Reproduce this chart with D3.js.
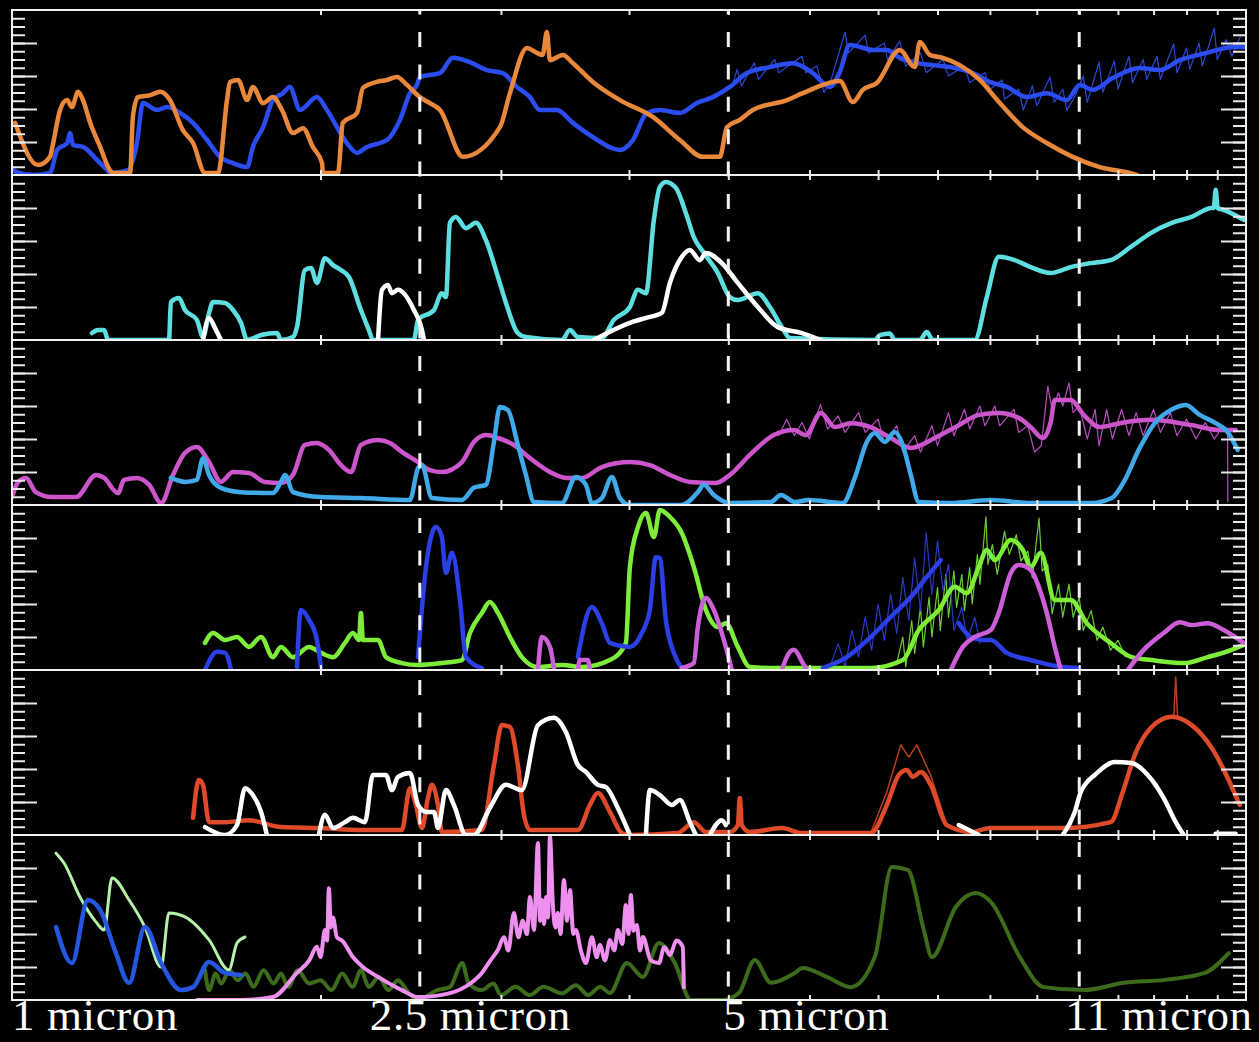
<!DOCTYPE html>
<html>
<head>
<meta charset="utf-8">
<script src="https://cdn.jsdelivr.net/npm/d3@7"></script>
<style>
  body { margin: 0; background: #000; }
  #chart-area { width: 1259px; height: 1042px; overflow: hidden; }
</style>
</head>
<body>
<div id="chart-area"></div>
<script>
/*
*    spectra panels - main script
*/

// wavelength labels along the bottom (micron)
var markLabels = ["1 micron", "2.5 micron", "5 micron", "11 micron"];
var markWaves = [1, 2.5, 5, 11];
var dashedWaves = [2.5, 5, 11];

// [wavelength in micron, relative flux 0..5], null = gap in the trace
// panel 1
var p1Blue = [[1.002,0.15],[1.011,0.09],[1.05,0.0],[1.089,0.06],[1.107,0.76],[1.132,0.97],[1.139,1.27],[1.147,0.91],[1.173,0.85],[1.211,0.45],[1.238,0.15],[1.246,0.06],[1.298,0.15],[1.324,0.97],[1.342,2.18],[1.385,1.97],[1.417,2.06],[1.459,1.88],[1.502,1.58],[1.55,1.06],[1.596,0.55],[1.643,0.36],[1.696,0.24],[1.718,0.85],[1.758,1.45],[1.797,2.27],[1.838,2.48],[1.867,2.67],[1.91,1.97],[1.984,2.36],[2.029,1.97],[2.122,0.97],[2.171,0.67],[2.22,0.85],[2.322,1.06],[2.391,1.67],[2.445,2.48],[2.484,2.73],[2.5,2.97],[2.616,3.09],[2.693,3.55],[2.798,3.42],[2.907,3.18],[3.013,3.09],[3.109,2.67],[3.202,2.36],[3.274,1.97],[3.402,1.97],[3.526,1.58],[3.688,1.15],[3.919,0.76],[4.035,1.06],[4.164,1.88],[4.287,1.97],[4.484,1.88],[4.659,2.18],[4.829,2.36],[5.017,2.67],[5.213,3.09],[5.489,3.27],[5.78,3.39],[6.045,3.09],[6.281,2.67],[6.423,3.12],[6.569,3.94],[6.718,3.88],[6.917,3.79],[7.139,3.79],[7.35,3.55],[7.637,3.39],[7.916,3.33],[8.224,3.27],[8.66,3.09],[8.997,2.82],[9.348,2.67],[9.777,2.36],[10.226,2.48],[10.696,2.27],[11.013,2.73],[11.339,2.58],[11.86,2.94],[12.602,3.24],[13.18,3.18],[13.786,3.48],[14.649,3.7],[15.528,3.88],[15.95,3.88]];
var p1BlueRaw = [[5.05,2.75],[5.1,3.2],[5.15,2.7],[5.3,3.4],[5.35,2.9],[5.55,3.5],[5.6,3.1],[5.9,3.6],[5.95,3.1],[6.1,3.3],[6.2,2.5],[6.3,2.9],[6.5,4.33],[6.55,3.7],[6.8,4.24],[6.85,3.7],[7.1,4.0],[7.15,3.5],[7.35,4.05],[7.45,3.3],[7.7,3.7],[7.8,3.1],[8.1,3.5],[8.2,3.0],[8.5,3.3],[8.6,2.8],[8.9,3.1],[9.0,2.6],[9.25,2.88],[9.3,2.3],[9.6,2.6],[9.7,1.97],[9.9,2.7],[10.0,2.1],[10.3,2.97],[10.4,2.2],[10.6,2.6],[10.7,1.95],[10.9,2.4],[11.1,3.0],[11.2,2.2],[11.5,3.42],[11.6,2.5],[11.9,3.45],[12.0,2.6],[12.3,3.6],[12.4,2.8],[12.7,3.5],[12.8,2.9],[13.1,3.6],[13.2,2.9],[13.6,3.97],[13.7,3.1],[14.0,3.85],[14.1,3.2],[14.4,4.0],[14.5,3.3],[14.9,4.45],[15.0,3.5],[15.3,4.1],[15.5,3.6],[15.8,4.2]];
var p1Orange = [[1.007,1.58],[1.06,0.3],[1.089,0.55],[1.097,0.97],[1.114,1.97],[1.132,2.27],[1.144,2.06],[1.16,2.52],[1.173,2.27],[1.192,1.58],[1.219,0.85],[1.246,0.15],[1.255,0.06],[1.304,0.06],[1.312,1.76],[1.327,2.36],[1.364,2.42],[1.395,2.52],[1.426,2.27],[1.468,1.36],[1.502,0.97],[1.543,0.06],[1.589,0.06],[1.621,2.27],[1.632,2.82],[1.662,2.88],[1.696,2.27],[1.718,2.67],[1.758,2.18],[1.797,2.36],[1.834,1.97],[1.88,1.27],[1.923,1.42],[1.966,0.85],[2.007,0.36],[2.011,0.06],[2.08,0.06],[2.103,1.58],[2.171,1.88],[2.2,2.64],[2.27,2.82],[2.322,2.88],[2.375,2.97],[2.429,2.73],[2.5,2.36],[2.557,2.18],[2.616,1.97],[2.754,0.55],[2.993,1.45],[3.061,2.48],[3.18,3.85],[3.252,3.7],[3.294,3.64],[3.326,4.33],[3.349,3.48],[3.448,3.64],[3.526,3.39],[3.688,2.82],[3.919,2.27],[4.22,1.76],[4.484,1.06],[4.722,0.55],[4.906,0.55],[4.984,1.45],[5.131,1.67],[5.283,1.97],[5.703,2.27],[5.911,2.48],[6.423,2.85],[6.614,2.21],[6.764,2.58],[6.98,2.79],[7.35,3.79],[7.602,3.27],[7.688,4.03],[7.863,3.64],[8.096,3.55],[8.411,3.33],[8.797,2.88],[9.202,2.18],[9.689,1.45],[10.226,0.97],[10.841,0.55],[11.519,0.24],[12.322,0.06],[12.52,0.0]];

// panel 2
var p2Cyan = [[1.197,0.21],[1.213,0.3],[1.23,0.3],[1.241,0.0],[1.423,0.0],[1.429,1.15],[1.455,1.27],[1.475,0.91],[1.515,0.61],[1.536,0.09],[1.557,0.82],[1.571,1.15],[1.614,1.12],[1.643,0.91],[1.673,0.52],[1.696,0.0],[1.75,0.15],[1.814,0.21],[1.83,0.0],[1.88,0.09],[1.897,0.39],[1.931,2.12],[1.958,2.18],[1.984,1.73],[2.02,2.48],[2.057,2.27],[2.094,2.12],[2.132,1.91],[2.19,0.91],[2.23,0.3],[2.25,0.0],[2.467,0.0],[2.49,0.61],[2.581,0.91],[2.627,1.42],[2.651,1.3],[2.675,3.55],[2.711,3.73],[2.773,3.39],[2.836,3.55],[2.9,3.03],[2.98,1.91],[3.034,1.12],[3.116,0.21],[3.173,0.09],[3.44,0.0],[3.503,0.3],[3.566,0.09],[3.763,0.06],[3.866,0.61],[4.008,1.0],[4.081,1.52],[4.155,1.42],[4.23,3.64],[4.287,4.64],[4.345,4.79],[4.444,4.61],[4.545,3.85],[4.627,3.12],[4.733,2.64],[4.884,2.03],[5.017,1.3],[5.108,1.21],[5.343,1.42],[5.489,1.0],[5.639,0.39],[5.741,0.06],[6.949,0.0],[7.027,0.15],[7.187,0.2],[7.268,0.0],[7.688,0.0],[7.81,0.24],[7.916,0.0],[8.699,0.0],[8.937,1.3],[9.181,2.52],[9.517,2.42],[9.865,2.21],[10.318,2.03],[10.792,2.21],[11.288,2.33],[11.807,2.42],[12.35,2.82],[12.916,3.24],[13.54,3.55],[14.162,3.73],[14.813,4.0],[14.88,4.0],[14.947,4.55],[15.015,4.0],[15.218,3.94],[15.917,3.64]];
var p2White = [[1.536,0.0],[1.557,0.67],[1.578,0.36],[1.599,0.0],null,[2.276,0.0],[2.296,1.52],[2.327,1.67],[2.348,1.42],[2.38,1.52],[2.467,0.91],[2.512,0.3],[2.523,0.0],null,[3.697,0.0],[4.008,0.52],[4.155,0.67],[4.306,0.82],[4.385,1.73],[4.504,2.52],[4.586,2.73],[4.69,2.42],[4.754,2.64],[4.928,2.33],[5.108,1.73],[5.343,1.0],[5.588,0.39],[5.898,0.21],[6.155,0.0]];

// panel 3
var p3Magenta = [[1.0,0.24],[1.014,0.7],[1.032,0.82],[1.055,0.39],[1.094,0.24],[1.155,0.24],[1.208,0.91],[1.23,0.82],[1.269,0.36],[1.286,0.76],[1.324,0.82],[1.361,0.61],[1.398,0.06],[1.436,0.91],[1.475,1.58],[1.515,1.76],[1.557,1.3],[1.599,0.7],[1.643,1.0],[1.703,0.97],[1.765,0.7],[1.83,0.67],[1.88,0.91],[1.931,1.82],[1.984,1.88],[2.038,1.67],[2.094,1.21],[2.142,1.0],[2.19,1.82],[2.276,1.97],[2.338,1.88],[2.401,1.61],[2.49,1.3],[2.557,1.06],[2.627,1.0],[2.748,1.3],[2.823,1.91],[2.9,2.12],[2.98,2.03],[3.088,1.82],[3.202,1.42],[3.349,1.0],[3.471,0.82],[3.598,0.82],[3.763,1.15],[4.008,1.3],[4.192,1.21],[4.385,0.91],[4.586,0.7],[4.862,0.67],[5.017,0.91],[5.248,1.52],[5.538,2.12],[5.793,2.27],[5.951,2.12],[6.155,2.79],[6.352,2.36],[6.584,2.48],[6.886,2.36],[7.203,2.03],[7.534,1.73],[7.952,2.03],[8.392,2.42],[8.778,2.73],[9.181,2.79],[9.603,2.64],[9.865,2.36],[10.134,2.03],[10.318,2.52],[10.412,3.18],[10.792,3.18],[11.112,2.73],[11.519,2.36],[12.048,2.48],[12.945,2.58],[14.162,2.42],[15.082,2.27],[15.634,2.27]];
var p3MagentaRaw = [[5.6,2.1],[5.7,2.6],[5.8,2.1],[5.9,2.5],[6.0,2.0],[6.15,3.05],[6.25,2.3],[6.4,2.7],[6.5,2.2],[6.7,2.8],[6.8,2.2],[7.0,2.6],[7.1,1.9],[7.3,2.4],[7.4,1.6],[7.6,2.1],[7.7,1.6],[7.9,2.4],[8.0,1.8],[8.2,2.8],[8.3,2.1],[8.5,2.9],[8.6,2.3],[8.8,3.0],[8.9,2.4],[9.1,3.0],[9.2,2.4],[9.5,2.9],[9.6,2.2],[9.8,2.4],[9.95,1.6],[10.1,1.8],[10.25,3.6],[10.35,2.9],[10.5,3.4],[10.6,3.0],[10.75,3.7],[10.85,2.8],[11.0,3.0],[11.2,2.0],[11.4,2.9],[11.5,1.8],[11.7,2.9],[11.85,2.0],[12.1,2.9],[12.3,2.1],[12.5,2.8],[12.7,2.1],[13.0,2.9],[13.2,2.2],[13.5,2.8],[13.7,2.1],[14.0,2.6],[14.3,2.0],[14.6,2.5],[14.9,2.0],[15.2,2.4],null,[15.35,2.3],[15.36,0.1]];
var p3Sky = [[1.429,0.82],[1.475,0.7],[1.515,0.76],[1.536,1.42],[1.557,0.91],[1.599,0.52],[1.673,0.39],[1.797,0.36],[1.83,0.7],[1.847,0.91],[1.88,0.39],[2.002,0.24],[2.19,0.21],[2.445,0.15],[2.49,1.12],[2.512,1.21],[2.569,0.21],[2.748,0.15],[2.823,0.52],[2.9,0.61],[2.953,1.91],[2.993,2.97],[3.047,2.88],[3.116,1.82],[3.173,0.91],[3.231,0.09],[3.44,0.06],[3.55,0.85],[3.631,0.61],[3.68,0.06],[3.763,0.21],[3.849,0.85],[3.919,0.21],[4.008,0.0],[4.504,0.0],[4.669,0.39],[4.733,0.61],[4.84,0.3],[5.017,0.06],[5.501,0.09],[5.626,0.3],[5.806,0.09],[5.991,0.15],[6.467,0.06],[6.643,0.82],[6.825,1.91],[6.949,2.18],[7.107,1.91],[7.268,2.21],[7.4,1.82],[7.534,0.91],[7.671,0.09],[8.242,0.06],[9.017,0.15],[9.865,0.06],[11.313,0.06],[11.833,0.21],[12.157,0.7],[12.602,1.73],[13.063,2.52],[13.42,2.82],[13.974,3.03],[14.42,2.73],[14.947,2.48],[15.355,2.21],[15.704,1.67]];

// panel 4
var p4Green = [[1.543,0.82],[1.571,1.12],[1.614,0.91],[1.658,1.0],[1.703,0.7],[1.75,1.0],[1.797,0.39],[1.83,0.7],[1.88,0.39],[1.949,0.7],[2.002,0.52],[2.057,0.39],[2.113,0.82],[2.151,1.12],[2.181,0.91],[2.19,1.73],[2.2,0.91],[2.276,0.91],[2.317,0.39],[2.401,0.21],[2.49,0.15],[2.627,0.21],[2.748,0.3],[2.798,1.12],[2.874,1.73],[2.926,2.06],[2.98,1.73],[3.061,1.0],[3.144,0.39],[3.26,0.09],[3.44,0.15],[3.598,0.09],[3.832,0.3],[3.972,0.82],[4.008,3.12],[4.081,4.33],[4.155,4.76],[4.23,4.03],[4.287,4.85],[4.385,4.64],[4.504,4.15],[4.627,3.12],[4.754,1.82],[4.884,1.3],[4.972,1.42],[5.108,0.7],[5.248,0.09],[5.489,0.06],[6.886,0.06],[7.4,0.3],[7.671,1.21],[8.024,1.82],[8.317,2.52],[8.544,2.33],[8.778,3.12],[8.937,3.64],[9.099,3.33],[9.432,3.94],[9.689,3.64],[9.865,3.12],[10.089,3.55],[10.412,2.12],[10.792,2.12],[11.188,1.42],[11.807,0.82],[12.377,0.39],[12.945,0.3],[13.911,0.21],[14.681,0.39],[15.493,0.61],[15.917,0.76]];
var p4GreenRaw = [[7.3,0.2],[7.4,1.0],[7.45,0.1],[7.55,1.5],[7.6,0.5],[7.7,1.9],[7.75,0.7],[7.85,2.2],[7.9,1.0],[8.0,2.5],[8.05,1.2],[8.15,2.9],[8.2,1.6],[8.3,3.0],[8.35,1.9],[8.45,2.9],[8.5,1.8],[8.6,3.1],[8.65,2.0],[8.75,3.5],[8.8,2.6],[8.92,4.64],[8.96,3.2],[9.05,3.8],[9.15,2.9],[9.3,4.2],[9.4,3.5],[9.55,4.1],[9.65,3.3],[9.8,3.6],[9.9,2.8],[10.05,4.6],[10.12,3.0],[10.25,3.2],[10.35,1.7],[10.5,2.6],[10.6,1.6],[10.75,2.6],[10.85,1.6],[11.0,2.2],[11.1,1.2],[11.3,1.8],[11.45,0.9],[11.6,1.3],[11.8,0.6],[12.0,0.9],[12.2,0.4]];
var p4Blue = [[1.543,0.0],[1.585,0.55],[1.614,0.52],[1.636,0.0],null,[1.897,0.09],[1.914,1.82],[1.949,1.52],[1.984,0.91],[2.002,0.09],null,[2.49,0.39],[2.535,3.12],[2.592,4.33],[2.627,4.03],[2.651,2.94],[2.687,3.55],[2.736,2.12],[2.773,0.39],[2.874,0.06],null,[3.566,0.39],[3.68,1.91],[3.763,1.42],[3.832,0.82],[4.008,0.7],[4.117,1.12],[4.192,1.82],[4.249,3.42],[4.287,3.39],[4.345,1.52],[4.424,0.52],[4.504,0.06],null,[6.183,0.06],[6.525,0.39],[6.886,1.0],[7.203,1.61],[7.534,2.21],[7.81,2.82],[8.059,3.33],null,[8.392,1.42],[8.621,1.0],[8.857,0.91],[9.017,0.91],[9.348,0.52],[9.865,0.3],[10.6,0.09],[11.0,0.06]];
var p4BlueRaw = [[6.3,0.2],[6.4,0.8],[6.5,0.1],[6.6,1.2],[6.7,0.4],[6.8,1.6],[6.9,0.6],[7.0,2.0],[7.1,0.9],[7.2,2.3],[7.3,1.1],[7.4,2.8],[7.5,1.5],[7.6,3.4],[7.7,1.8],[7.8,4.15],[7.9,2.3],[8.0,3.9],[8.1,2.4],[8.2,3.2],[8.3,1.2],[8.45,1.9],[8.55,0.9],[8.7,1.6],[8.8,0.8]];
var p4Magenta = [[3.26,0.0],[3.289,1.0],[3.349,0.7],[3.379,0.06],null,[3.566,0.0],[3.582,0.3],[3.647,0.3],[3.664,0.0],null,[4.504,0.06],[4.627,0.21],[4.669,1.3],[4.754,2.18],[4.84,1.82],[4.972,0.7],[5.04,0.0],null,[5.639,0.0],[5.715,0.45],[5.793,0.61],[5.911,0.21],[5.965,0.0],null,[8.242,0.0],[8.468,0.7],[8.699,1.0],[9.017,1.21],[9.181,1.73],[9.432,2.94],[9.603,3.18],[9.865,3.03],[10.044,2.52],[10.226,1.73],[10.412,0.7],[10.553,0.0],null,[12.267,0.0],[12.715,0.61],[13.299,1.12],[13.786,1.45],[14.162,1.36],[14.681,1.42],[15.218,1.21],[15.917,0.82]];

// panel 5
var p5Red = [[1.502,0.52],[1.522,1.67],[1.536,1.52],[1.557,0.39],[1.614,0.39],[1.703,0.45],[1.83,0.24],[2.002,0.21],[2.19,0.15],[2.401,0.15],[2.445,1.42],[2.478,0.91],[2.512,0.21],[2.546,1.12],[2.569,1.52],[2.604,0.91],[2.627,0.09],[2.874,0.15],[2.953,2.12],[3.006,3.33],[3.061,3.27],[3.116,2.12],[3.159,0.61],[3.202,0.15],[3.566,0.15],[3.664,0.91],[3.73,1.27],[3.832,0.7],[3.936,0.06],[4.008,0.0],[4.464,0.06],[4.627,0.39],[4.754,0.09],[5.017,0.09],[5.108,0.3],[5.131,1.12],[5.154,0.3],[5.248,0.09],[5.639,0.21],[5.898,0.06],[6.886,0.06],[7.139,0.91],[7.334,1.82],[7.467,1.97],[7.568,1.76],[7.705,1.91],[7.88,1.52],[8.169,0.3],[8.621,0.09],[9.017,0.21],[10.6,0.21],[11.807,0.39],[12.13,1.3],[12.461,2.42],[12.916,3.24],[13.54,3.58],[14.162,3.33],[14.813,2.64],[15.355,1.73],[15.775,0.91]];
var p5RedRaw = [[6.886,0.06],[7.139,1.3],[7.366,2.73],[7.5,2.36],[7.637,2.73],[7.88,1.8],[8.169,0.3],null,[13.6,3.55],[13.663,4.79],[13.72,3.55]];
var p5White = [[1.543,0.24],[1.614,0.0],[1.658,0.3],[1.688,1.42],[1.718,1.21],[1.75,0.7],[1.773,0.0],null,[1.993,0.0],[2.02,0.61],[2.057,0.21],[2.113,0.39],[2.151,0.52],[2.21,0.39],[2.25,1.82],[2.317,1.82],[2.348,1.36],[2.38,1.76],[2.445,1.88],[2.49,0.91],[2.535,0.7],[2.581,0.7],[2.604,0.21],[2.651,1.36],[2.699,0.91],[2.773,0.0],[2.823,0.0],[2.926,0.82],[3.034,1.52],[3.144,1.36],[3.26,3.33],[3.379,3.55],[3.471,3.12],[3.566,2.12],[3.631,1.91],[3.73,1.52],[3.798,1.45],[3.901,0.82],[4.008,0.0],null,[4.155,0.0],[4.192,1.36],[4.287,1.21],[4.404,0.91],[4.484,1.06],[4.586,0.39],[4.648,0.0],null,[4.797,0.0],[4.928,0.45],[4.972,0.3],null,[8.392,0.3],[8.778,0.0],null,[10.6,0.0],[10.89,0.7],[11.037,1.3],[11.137,1.52],[11.39,1.82],[11.914,2.21],[12.377,2.18],[12.83,1.82],[13.299,1.12],[13.663,0.39],[13.911,0.0],null,[14.947,0.04],[15.634,0.04]];

// panel 6
var p6PaleGreen = [[1.104,4.45],[1.124,4.15],[1.165,3.12],[1.208,2.36],[1.23,2.12],[1.252,3.7],[1.301,3.03],[1.348,2.21],[1.398,1.0],[1.423,2.64],[1.475,2.52],[1.557,1.82],[1.628,0.91],[1.658,1.73],[1.688,1.91]];
var p6Blue = [[1.104,2.21],[1.144,1.12],[1.186,3.03],[1.219,2.73],[1.263,1.42],[1.301,0.52],[1.348,2.21],[1.398,1.12],[1.462,0.3],[1.502,0.39],[1.557,1.15],[1.614,0.82],[1.673,0.76]];
var p6DarkGreen = [[1.543,0.91],[1.557,0.3],[1.58,0.8],[1.6,0.5],[1.63,0.9],[1.66,0.6],[1.69,0.8],[1.72,0.4],[1.76,0.9],[1.8,0.5],[1.83,0.8],[1.86,0.4],[1.9,0.9],[1.95,0.5],[2.0,0.6],[2.05,0.3],[2.1,0.8],[2.15,0.4],[2.19,0.9],[2.23,0.4],[2.28,0.7],[2.33,0.3],[2.38,0.6],[2.44,0.2],[2.49,0.0],[2.6,0.3],[2.675,0.39],[2.75,1.12],[2.79,0.5],[2.874,0.3],[2.95,0.5],[3.0,0.15],[3.1,0.4],[3.2,0.15],[3.3,0.4],[3.44,0.2],[3.55,0.45],[3.65,0.15],[3.75,0.4],[3.832,0.21],[3.981,1.12],[4.127,0.7],[4.278,1.73],[4.434,1.12],[4.596,0.0],[4.939,0.0],[5.12,0.21],[5.307,1.21],[5.501,0.52],[5.806,0.82],[5.911,0.97],[6.239,0.7],[6.584,0.39],[6.949,1.3],[7.219,4.03],[7.483,3.94],[7.758,2.12],[7.898,1.3],[8.336,2.82],[8.719,3.24],[9.037,2.94],[9.624,1.3],[10.157,0.39],[11.112,0.3],[12.157,0.52],[13.329,0.61],[14.583,0.82],[15.39,1.42]];
var p6Violet = [[1.515,0],[1.673,0],[1.797,0.09],[1.897,0.82],[1.95,1.2],[1.984,1.61],[2.0,1.3],[2.02,2.12],[2.03,1.8],[2.038,3.39],[2.047,2.2],[2.057,2.5],[2.075,1.9],[2.1,1.8],[2.151,1.3],[2.2,1.0],[2.276,0.7],[2.401,0.3],[2.49,0.09],[2.675,0.21],[2.8,0.5],[2.874,0.82],[2.93,1.2],[2.98,1.52],[3.02,1.9],[3.05,1.5],[3.088,2.64],[3.12,1.9],[3.15,2.4],[3.18,2.0],[3.202,3.12],[3.231,2.12],[3.26,4.76],[3.275,2.4],[3.289,3.03],[3.305,2.3],[3.319,3.12],[3.335,2.5],[3.349,4.97],[3.371,2.88],[3.39,2.2],[3.409,2.64],[3.43,2.0],[3.456,3.64],[3.48,2.4],[3.503,3.33],[3.53,2.0],[3.55,2.12],[3.59,1.5],[3.631,1.12],[3.68,1.9],[3.72,1.3],[3.747,1.67],[3.79,1.2],[3.832,1.82],[3.87,1.5],[3.901,2.12],[3.94,1.7],[3.972,2.88],[3.995,2.0],[4.017,3.18],[4.04,2.1],[4.071,2.27],[4.1,1.5],[4.127,1.91],[4.2,1.2],[4.278,1.12],[4.33,1.6],[4.385,1.36],[4.45,1.8],[4.514,1.61],[4.524,0.39]];

// series setup: panel index, data, colour, width (drawn in this order)
var series = [
  {panel: 0, data: p1BlueRaw, color: "#2a48d8", w: 1.2, raw: true},
  {panel: 0, data: p1Blue, color: "#2b4cf0", w: 4.5},
  {panel: 0, data: p1Orange, color: "#e9873b", w: 4.5},
  {panel: 1, data: p2Cyan, color: "#5ddfe2", w: 4.5},
  {panel: 1, data: p2White, color: "#ffffff", w: 4.5},
  {panel: 2, data: p3MagentaRaw, color: "#b84cc0", w: 1.2, raw: true},
  {panel: 2, data: p3Magenta, color: "#cc55cc", w: 4.5},
  {panel: 2, data: p3Sky, color: "#3fa9e9", w: 4.5},
  {panel: 3, data: p4GreenRaw, color: "#6ad032", w: 1.2, raw: true},
  {panel: 3, data: p4BlueRaw, color: "#2838c8", w: 1.2, raw: true},
  {panel: 3, data: p4Green, color: "#7ded3a", w: 4.5},
  {panel: 3, data: p4Blue, color: "#2b3fe6", w: 4.5},
  {panel: 3, data: p4Magenta, color: "#cc5fd8", w: 4.5},
  {panel: 4, data: p5RedRaw, color: "#b8401e", w: 1.5, raw: true},
  {panel: 4, data: p5Red, color: "#de4a2a", w: 4.5},
  {panel: 4, data: p5White, color: "#ffffff", w: 4.5},
  {panel: 5, data: p6DarkGreen, color: "#3d6b1c", w: 4},
  {panel: 5, data: p6Violet, color: "#ef8fef", w: 4},
  {panel: 5, data: p6PaleGreen, color: "#b4f2a8", w: 3},
  {panel: 5, data: p6Blue, color: "#2456e0", w: 4.5}
];

var width = 1259;
var height = 1042;
var margin = {top: 10, left: 12, right: 13};
var panelH = 165;
var nPanels = 6;

var svg = d3.select("#chart-area")
    .append("svg")
    .attr("width", width)
    .attr("height", height)
    .style("background", "#000");

var x = d3.scaleLog()
    .domain([1, 16])
    .range([margin.left, width - margin.right]);

var xTicks = d3.range(2, 16);

function drawPanel(p) {
    var panelTop = margin.top + p * panelH;
    var y = d3.scaleLinear().domain([0, 5]).range([panelTop + panelH, panelTop]);
    var g = svg.append("g").attr("class", "panel");

    g.append("clipPath")
        .attr("id", "clip" + p)
        .append("rect")
        .attr("x", x(1))
        .attr("y", panelTop - 4)
        .attr("width", x(16) - x(1))
        .attr("height", panelH + 4);

    var smooth = d3.line()
        .defined(function(d) { return d != null; })
        .curve(d3.curveMonotoneX)
        .x(function(d) { return x(d[0]); })
        .y(function(d) { return y(d[1]); });

    var jagged = d3.line()
        .defined(function(d) { return d != null; })
        .x(function(d) { return x(d[0]); })
        .y(function(d) { return y(d[1]); });

    series.filter(function(s) { return s.panel === p; }).forEach(function(s) {
        g.append("path")
            .attr("clip-path", "url(#clip" + p + ")")
            .attr("d", (s.raw ? jagged : smooth)(s.data))
            .attr("fill", "none")
            .attr("stroke", s.color)
            .attr("stroke-width", s.w)
            .attr("stroke-linejoin", "round")
            .attr("stroke-linecap", "round");
    });

    // ticks: minor + major on both sides, small ones top and bottom
    var minorVals = d3.range(0.25, 5, 0.25);
    var minor = d3.axisRight(y).tickValues(minorVals).tickSize(13).tickFormat("");
    var major = d3.axisRight(y).tickValues([1, 2, 3, 4]).tickSize(25).tickFormat("");
    var rMinor = d3.axisLeft(y).tickValues(minorVals).tickSize(13).tickFormat("");
    var rMajor = d3.axisLeft(y).tickValues([1, 2, 3, 4]).tickSize(25).tickFormat("");
    var topAx = d3.axisBottom(x).tickValues(xTicks).tickSize(5).tickFormat("");
    var botAx = d3.axisTop(x).tickValues(xTicks).tickSize(5).tickFormat("");

    [
        [minor, "translate(" + x(1) + ",0)"],
        [major, "translate(" + x(1) + ",0)"],
        [rMinor, "translate(" + x(16) + ",0)"],
        [rMajor, "translate(" + x(16) + ",0)"],
        [topAx, "translate(0," + panelTop + ")"],
        [botAx, "translate(0," + (panelTop + panelH) + ")"]
    ].forEach(function(a) {
        var ax = g.append("g").attr("transform", a[1]).call(a[0]);
        ax.select(".domain").remove();
        ax.selectAll("line").attr("stroke", "#e8e8e8").attr("stroke-width", 2);
    });

    g.append("rect")
        .attr("x", x(1))
        .attr("y", panelTop)
        .attr("width", x(16) - x(1))
        .attr("height", panelH)
        .attr("fill", "none")
        .attr("stroke", "#f0f0f0")
        .attr("stroke-width", 2);
}

for (var p = 0; p < nPanels; p++) {
    drawPanel(p);
}

// dashed wavelength markers
svg.selectAll(".marker")
    .data(dashedWaves)
    .enter()
    .append("line")
        .attr("class", "marker")
        .attr("x1", function(d) { return x(d); })
        .attr("x2", function(d) { return x(d); })
        .attr("y1", margin.top)
        .attr("y2", margin.top + nPanels * panelH)
        .attr("stroke", "#f2f2f2")
        .attr("stroke-width", 3)
        .attr("stroke-dasharray", "15,17.4")
        .attr("stroke-dashoffset", 10.4);

// bottom labels
var labelShift = [0, -50, -5, -14];
svg.selectAll(".wave-label")
    .data(markLabels)
    .enter()
    .append("text")
        .attr("class", "wave-label")
        .attr("x", function(d, i) { return x(markWaves[i]) + labelShift[i]; })
        .attr("y", 1030)
        .attr("fill", "#ffffff")
        .attr("font-family", "'Liberation Serif', 'DejaVu Serif', serif")
        .attr("font-size", "45px")
        .attr("letter-spacing", "0.6px")
        .text(function(d) { return d; });
</script>
</body>
</html>
